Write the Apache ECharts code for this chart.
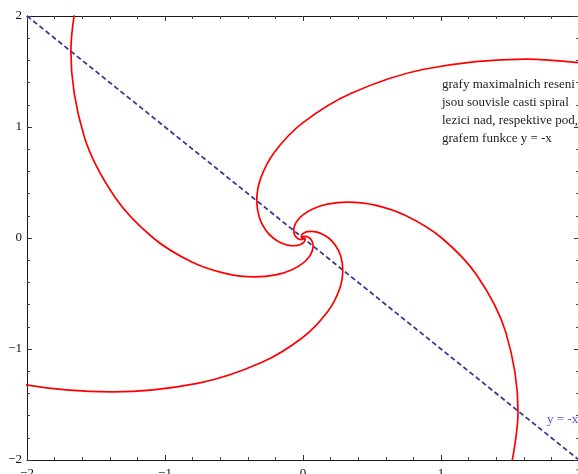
<!DOCTYPE html>
<html>
<head>
<meta charset="utf-8">
<script src="https://cdn.jsdelivr.net/npm/echarts@6/dist/echarts.min.js"></script>
<style>
html,body{margin:0;padding:0;background:#fff;}
#chart{width:578px;height:474px;}
</style>
</head>
<body>
<div id="chart"></div>
<script>
// Axis ranges and ticks
const xRange = [-2, 2];
const yRange = [-2, 2];
const majorStep = 1;

// Spiral arcs ([x, y] points, outer end first)
const curveA = [[-1.545,2.677],[-1.682,1.682],[-1.586,0.916],[-1.361,0.365],[-1.085,0],[-0.806,-0.216],[-0.556,-0.321],[-0.350,-0.350],[-0.190,-0.330],[-0.076,-0.283],[0,-0.226],[0.045,-0.168],[0.067,-0.116],[0.073,-0.073],[0.069,-0.040],[0.059,-0.016],[0.047,0],[0.035,0.009],[0.024,0.014],[0.015,0.015],[0.008,0.014],[0,0.010],[-0.003,0.003],[0,0]];
const curveB = [[2.565,1.481],[1.612,1.612],[0.877,1.520],[0.350,1.304],[0,1.039],[-0.207,0.773],[-0.308,0.533],[-0.335,0.335],[-0.316,0.182],[-0.271,0.073],[-0.216,0],[-0.161,-0.043],[-0.111,-0.064],[-0.070,-0.070],[-0.038,-0.066],[-0.015,-0.056],[0,-0.045],[0.009,-0.033],[0.013,-0.023],[0.015,-0.015],[0.014,-0.008],[0.009,0],[0.003,0.003],[0,0]];
const curveC = [[-3.196,-0.856],[-2.206,-1.274],[-1.386,-1.386],[-0.755,-1.307],[-0.301,-1.122],[0,-0.894],[0.178,-0.665],[0.265,-0.459],[0.288,-0.288],[0.272,-0.157],[0.233,-0.063],[0.186,0],[0.138,0.037],[0.095,0.055],[0.060,0.060],[0.033,0.057],[0.013,0.049],[0,0.039],[-0.008,0.029],[-0.011,0.020],[-0.012,0.012],[-0.009,0.005],[-0.008,0],[-0.003,-0.003],[0,0]];
const curveD = [[1.431,-2.479],[1.558,-1.558],[1.469,-0.848],[1.261,-0.338],[1.005,0],[0.747,0.200],[0.515,0.298],[0.324,0.324],[0.176,0.305],[0.070,0.262],[0,0.209],[-0.042,0.155],[-0.062,0.107],[-0.067,0.067],[-0.063,0.037],[-0.055,0.015],[-0.043,0],[-0.032,-0.009],[-0.022,-0.013],[-0.014,-0.014],[-0.008,-0.013],[0,-0.009],[0,0]];

// Line y = -x
const diagonal = [[-2, 2], [2, -2]];
const diagonalLabel = 'y = -x';

const annotationLines = [
  'grafy maximalnich reseni',
  'jsou souvisle casti spiral',
  'lezici nad, respektive pod,',
  'grafem funkce y = -x'
];

const serif = '"Liberation Serif", "DejaVu Serif", serif';
const fmt = v => (v < 0 ? '\u2212' : '') + Math.abs(v);

function makeAxis(pos, showLabel, range) {
  return {
    type: 'value',
    position: pos,
    min: range[0],
    max: range[1],
    interval: majorStep,
    axisLine: { show: true, onZero: false, lineStyle: { color: '#1a1a1a', width: 1 } },
    axisTick: { show: true, inside: true, length: 5, lineStyle: { color: '#333', width: 1 } },
    minorTick: { show: true, splitNumber: 5, length: 3, lineStyle: { color: '#444', width: 1 } },
    splitLine: { show: false },
    minorSplitLine: { show: false },
    axisLabel: {
      show: showLabel,
      formatter: fmt,
      color: '#111',
      fontFamily: serif,
      fontSize: 13,
      margin: (pos === 'left' || pos === 'right') ? 5 : 7,
      hideOverlap: false
    }
  };
}

const redStyle = { color: '#ff0000', width: 1.7 };
function spiral(data) {
  return {
    type: 'line', data: data, xAxisIndex: 0, yAxisIndex: 0,
    showSymbol: false, symbol: 'none', smooth: 0.35, clip: true,
    lineStyle: redStyle, itemStyle: { color: '#ff0000' }, z: 3, silent: true
  };
}

const chart = echarts.init(document.getElementById('chart'), null, { renderer: 'canvas' });

const graphics = annotationLines.map((t, i) => ({
  type: 'text',
  x: 442,
  y: 84.5 + i * 17.9,
  style: {
    text: t, fill: '#222', fontSize: 13, fontFamily: serif,
    align: 'left', verticalAlign: 'middle'
  },
  z: 10
}));
graphics.push({
  type: 'text', x: 547, y: 419.5,
  style: { text: diagonalLabel, fill: '#5050e8', fontSize: 13, fontFamily: serif, align: 'left', verticalAlign: 'middle' },
  z: 10
});

chart.setOption({
  animation: false,
  backgroundColor: '#ffffff',
  grid: { left: 27, top: 16, width: 552, height: 444, containLabel: false, outerBoundsMode: 'none' },
  xAxis: [makeAxis('bottom', true, xRange), makeAxis('top', false, xRange)],
  yAxis: [makeAxis('left', true, yRange), makeAxis('right', false, yRange)],
  series: [
    {
      type: 'line', data: diagonal, showSymbol: false, symbol: 'none',
      lineStyle: { color: '#3a3a98', width: 1.8, type: [5, 3] }, z: 2, silent: true
    },
    spiral(curveA),
    spiral(curveB),
    spiral(curveC),
    spiral(curveD)
  ],
  graphic: graphics
});
</script>
</body>
</html>
